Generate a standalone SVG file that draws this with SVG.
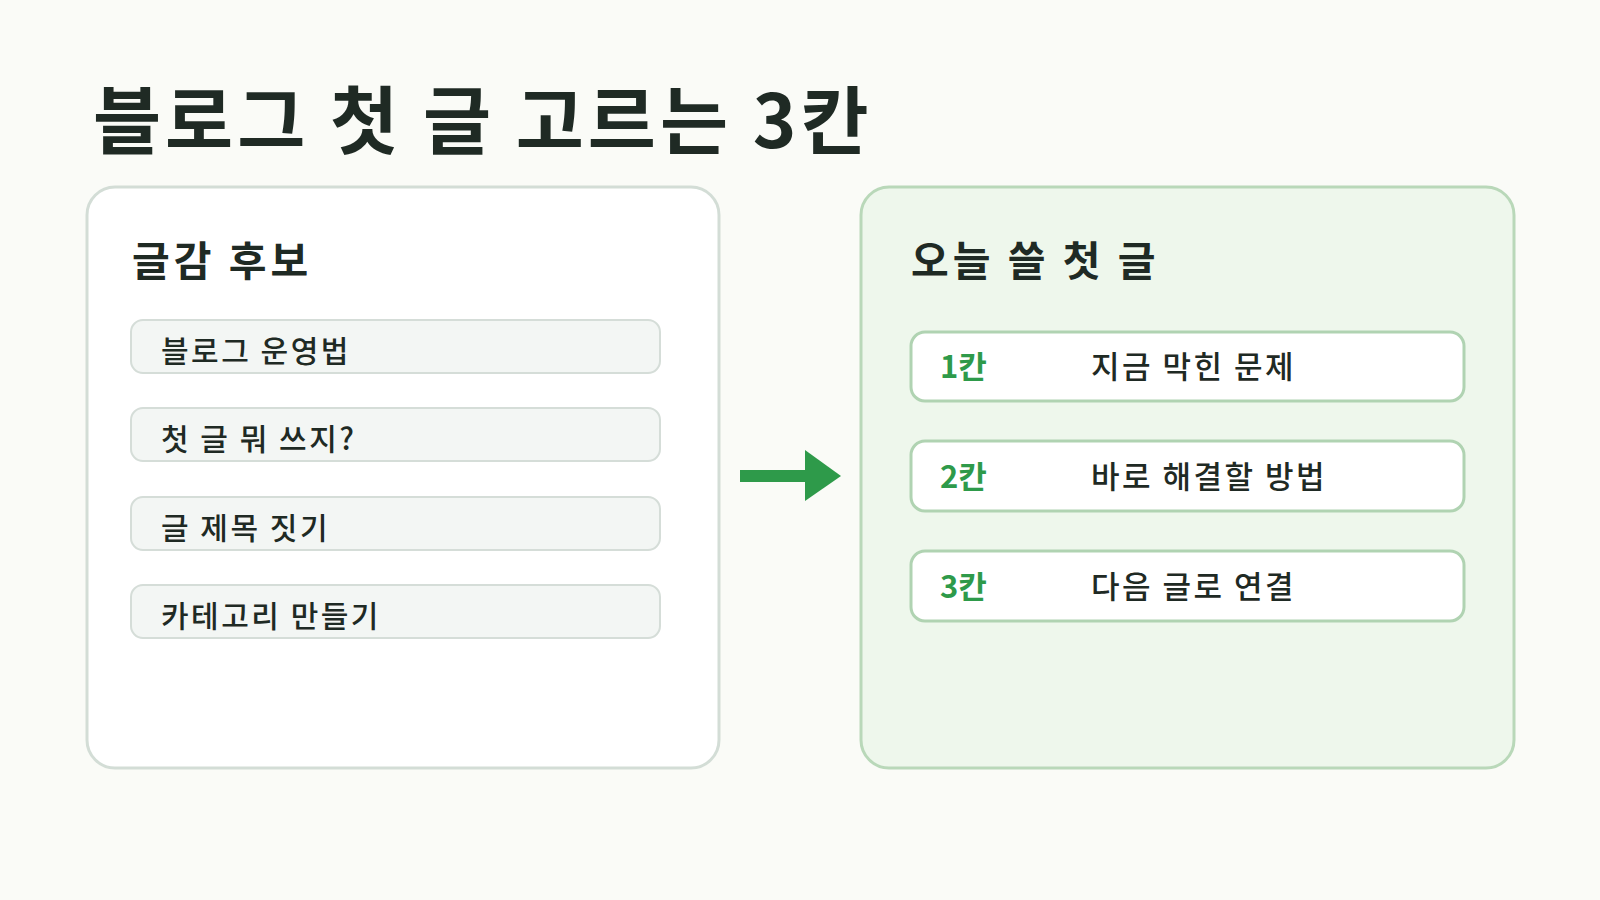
<svg xmlns="http://www.w3.org/2000/svg" width="1600" height="900" viewBox="0 0 1600 900">
<style>
text{font-family:"Noto Sans CJK KR","Noto Sans",sans-serif;fill:#1f2a24}
.title{font-size:74px;font-weight:700;letter-spacing:4px}
.ptitle{font-size:41px;font-weight:700;letter-spacing:4px}
.item rect{fill:#f3f6f4;stroke:#d5ddd8;stroke-width:2}
.item text{font-size:30px;font-weight:500;letter-spacing:2.5px}
.row rect{fill:#ffffff;stroke:#b0d3b2;stroke-width:3}
.row text{font-size:31px;font-weight:500;letter-spacing:2.5px}
.row .num{fill:#2e9a4a;font-weight:700;letter-spacing:0}
</style>
<rect width="1600" height="900" fill="#fafbf7"/>
<text class="title" x="93" y="148">블로그 첫 글 고르는 3칸</text>
<g id="left-panel">
<rect x="87" y="187" width="632" height="581" rx="28" fill="#ffffff" stroke="#d3ddd6" stroke-width="3"/>
<text class="ptitle" x="132" y="276">글감 후보</text>
</g>
<g id="item1" class="item"><rect x="131" y="320" width="529" height="53" rx="12"/><text x="161" y="362">블로그 운영법</text></g>
<g id="item2" class="item"><rect x="131" y="408" width="529" height="53" rx="12"/><text x="161" y="450">첫 글 뭐 쓰지?</text></g>
<g id="item3" class="item"><rect x="131" y="497" width="529" height="53" rx="12"/><text x="161" y="539">글 제목 짓기</text></g>
<g id="item4" class="item"><rect x="131" y="585" width="529" height="53" rx="12"/><text x="161" y="627">카테고리 만들기</text></g>
<g id="connectors">
<line x1="740" y1="476" x2="808" y2="476" stroke="#2e9a4a" stroke-width="12"/>
<polygon points="805,450 841,476 805,501" fill="#2e9a4a"/>
</g>
<g id="right-panel">
<rect x="861" y="187" width="653" height="581" rx="28" fill="#eef7ec" stroke="#b9d8b9" stroke-width="3"/>
<text class="ptitle" x="911" y="276">오늘 쓸 첫 글</text>
</g>
<g id="row1" class="row"><rect x="911" y="332" width="553" height="69" rx="14"/><text class="num" x="940" y="378">1칸</text><text x="1091" y="378">지금 막힌 문제</text></g>
<g id="row2" class="row"><rect x="911" y="441" width="553" height="70" rx="14"/><text class="num" x="940" y="488">2칸</text><text x="1091" y="488">바로 해결할 방법</text></g>
<g id="row3" class="row"><rect x="911" y="551" width="553" height="70" rx="14"/><text class="num" x="940" y="598">3칸</text><text x="1091" y="598">다음 글로 연결</text></g>
</svg>
